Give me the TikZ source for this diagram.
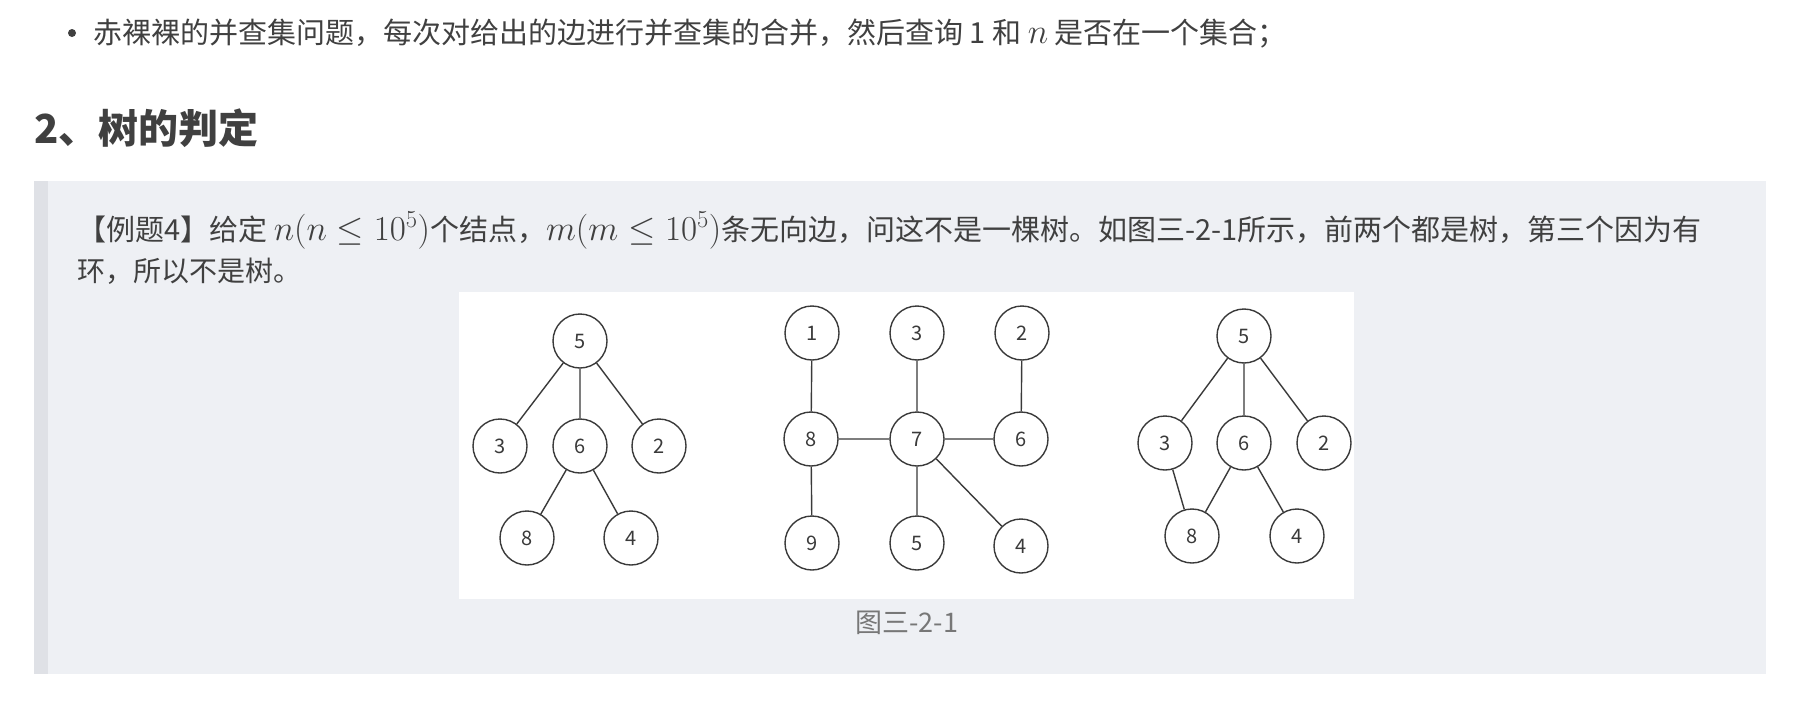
\documentclass[tikz,border=0pt]{standalone}
\usepackage{fix-cm}
\usepackage[no-math]{fontspec}
\setmainfont{Noto Sans CJK SC}
\usetikzlibrary{positioning}
\definecolor{bodytext}{HTML}{404040}
\definecolor{boxbg}{HTML}{EEF0F4}
\definecolor{boxbar}{HTML}{DFE1E6}
\definecolor{capgray}{HTML}{777777}
\definecolor{treeline}{HTML}{3A3A3A}
\newcommand{\bigmath}[1]{{\fontsize{35}{40}\selectfont$#1$}}

\begin{document}
\begin{tikzpicture}[x=1pt, y=-1pt,
  vtx/.style={draw=treeline, circle, line width=1.4pt, minimum size=54pt, inner sep=0pt,
    font=\fontsize{20}{20}\selectfont, text=treeline},
  link/.style={draw=treeline, line width=1.4pt},
  body/.style={anchor=base west, inner sep=0pt, text=bodytext, font=\fontsize{28}{42}\selectfont}]
  \useasboundingbox (0,0) rectangle (1798,704);
  \fill[white] (0,0) rectangle (1798,704);

  % bullet line and heading
  \node[circle, fill=bodytext, inner sep=0pt, minimum size=8pt] (dot) at (72,33) {};
  \node[body, font=\fontsize{29}{42}\selectfont] (intro) at (93,43) {赤裸裸的并查集问题，每次对给出的边进行并查集的合并，然后查询 1 和 \bigmath{n} 是否在一个集合；};
  \node[body, font=\fontsize{40}{48}\selectfont\bfseries] (title) at (34,143) {2、树的判定};

  % quote box
  \fill[boxbg] (34,181) rectangle (1766,674);
  \fill[boxbar] (34,181) rectangle (48,674);
  \node[body, font=\fontsize{29}{42}\selectfont] (line1) at (77,240) {【例题4】给定 \bigmath{n(n \leq 10^5)}个结点，\bigmath{m(m \leq 10^5)}条无向边，问这不是一棵树。如图三-2-1所示，前两个都是树，第三个因为有};
  \node[body] (line2) at (77,281) {环，所以不是树。};

  % figure
  \node[fill=white, anchor=north west, minimum width=895pt, minimum height=307pt, inner sep=0pt] (fig) at (459,292) {};
  \node[below=11pt of fig, text=capgray, font=\fontsize{27}{32}\selectfont, inner sep=0pt] (cap) {图三-2-1};

  % first tree
  \node[vtx] (a5) at (580,341) {5};
  \node[vtx] (a3) at (500,446) {3};
  \node[vtx] (a6) at (580,446) {6};
  \node[vtx] (a2) at (659,446) {2};
  \node[vtx] (a8) at (527,538) {8};
  \node[vtx] (a4) at (631,538) {4};
  \draw[link] (a5) -- (a3) (a5) -- (a6) (a5) -- (a2) (a6) -- (a8) (a6) -- (a4);

  % second tree
  \node[vtx] (b1) at (812,333) {1};
  \node[vtx] (b3) at (917,333) {3};
  \node[vtx] (b2) at (1022,333) {2};
  \node[vtx] (b8) at (811,439) {8};
  \node[vtx] (b7) at (917,439) {7};
  \node[vtx] (b6) at (1021,439) {6};
  \node[vtx] (b9) at (812,543) {9};
  \node[vtx] (b5) at (917,543) {5};
  \node[vtx] (b4) at (1021,546) {4};
  \draw[link] (b1) -- (b8) (b3) -- (b7) (b2) -- (b6) (b8) -- (b7) (b7) -- (b6)
    (b8) -- (b9) (b7) -- (b5) (b7) -- (b4);

  % third tree, with a cycle
  \node[vtx] (c5) at (1244,336) {5};
  \node[vtx] (c3) at (1165,443) {3};
  \node[vtx] (c6) at (1244,443) {6};
  \node[vtx] (c2) at (1324,443) {2};
  \node[vtx] (c8) at (1192,536) {8};
  \node[vtx] (c4) at (1297,536) {4};
  \draw[link] (c5) -- (c3) (c5) -- (c6) (c5) -- (c2) (c3) -- (c8) (c6) -- (c8) (c6) -- (c4);
\end{tikzpicture}
\end{document}
